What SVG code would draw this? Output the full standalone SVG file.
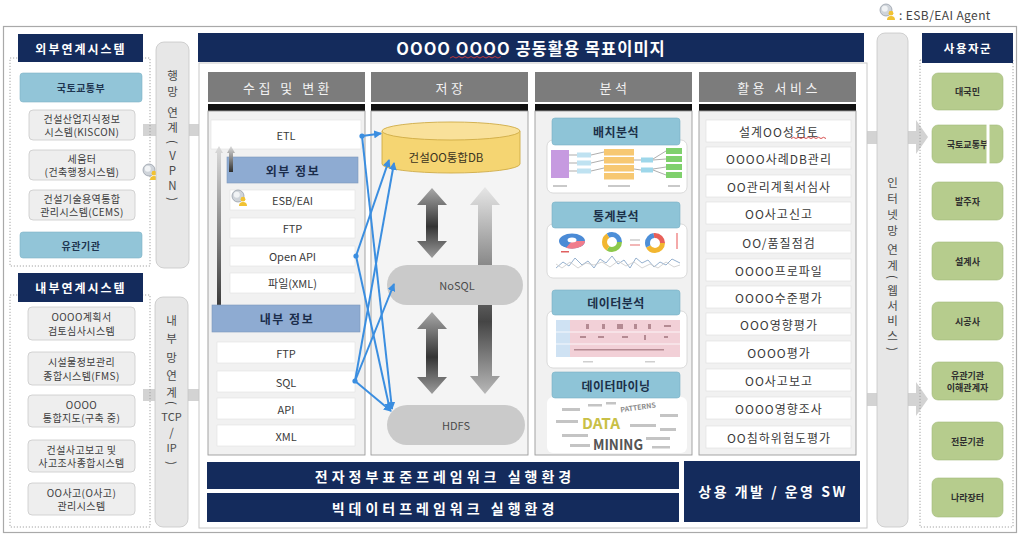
<svg xmlns="http://www.w3.org/2000/svg" width="1020" height="536" viewBox="0 0 1020 536">
<defs>
<style>
text{font-family:"Noto Sans CJK KR","Noto Sans",sans-serif;dominant-baseline:central;text-anchor:middle;}
.navy{fill:#142b5c;}
.wt{fill:#fff;font-weight:700;}
.teal{fill:#92c5d8;stroke:#7fb3c7;stroke-width:0.6;}
.tealT{font-size:10px;font-weight:700;fill:#1e3550;letter-spacing:0.5px;}
.sys{fill:#eeeeee;stroke:#c9c9c9;stroke-width:0.8;}
.sysT{font-size:10px;fill:#3c3c3c;letter-spacing:0.4px;}
.pill{fill:#e7e7e7;stroke:#c6c6c6;stroke-width:0.8;}
.vt{font-size:11.5px;fill:#4a4a4a;}
.dash{fill:none;stroke:#9a9a9a;stroke-width:0.9;stroke-dasharray:1.2 1.8;}
.colH{fill:#7c7c7c;}
.colHT{font-size:13px;fill:#f2f2f2;letter-spacing:3.5px;}
.bar{fill:#111;}
.body{fill:#f1f1f1;stroke:#9b9b9b;stroke-width:0.9;}
.row{fill:#fff;stroke:#e2e2e2;stroke-width:0.6;}
.rowT{font-size:11px;fill:#3a3a3a;}
.info{fill:#8eabd2;stroke:#7d98bd;stroke-width:0.6;}
.infoT{font-size:12px;font-weight:700;fill:#1b2d4b;letter-spacing:1.5px;}
.anH{fill:#8ec4d7;stroke:#78b0c4;stroke-width:0.6;}
.anHT{font-size:12px;font-weight:700;fill:#1c3049;letter-spacing:0.5px;}
.img{fill:#fff;stroke:#d2d2d2;stroke-width:0.8;}
.svc{fill:#fff;stroke:#dedede;stroke-width:0.6;}
.svcT{font-size:12px;fill:#3a3a3a;letter-spacing:1px;}
.green{fill:#b6cc8d;stroke:#a3ba7a;stroke-width:0.6;}
.greenT{font-size:9px;font-weight:700;fill:#2f2f2f;}
.gArrow{fill:#d3d3d3;}
.store{fill:#cacaca;}
.storeT{font-size:11px;fill:#4a4a4a;}
.conn{fill:none;stroke:#3b8ee0;stroke-width:2;marker-end:url(#arr);}
.dot{fill:#3b8ee0;}
.squig{fill:none;stroke:#d23a3a;stroke-width:0.9;}
</style>
<marker id="arr" viewBox="0 0 8 8" refX="7" refY="4" markerWidth="8" markerHeight="8" markerUnits="userSpaceOnUse" orient="auto">
<path d="M0,0 L8,4 L0,8 z" fill="#3b8ee0"/>
</marker>
<linearGradient id="gDark" x1="0" y1="0" x2="0" y2="1">
<stop offset="0" stop-color="#a8a8a8"/>
<stop offset="0.55" stop-color="#343434"/>
<stop offset="1" stop-color="#9c9c9c"/>
</linearGradient>
<linearGradient id="gLong" x1="0" y1="0" x2="0" y2="1">
<stop offset="0" stop-color="#e6e6e6"/>
<stop offset="0.65" stop-color="#454545"/>
<stop offset="1" stop-color="#b8b8b8"/>
</linearGradient>
<linearGradient id="gUp" x1="0" y1="0" x2="0" y2="1">
<stop offset="0" stop-color="#dcdcdc"/>
<stop offset="1" stop-color="#2e2e2e"/>
</linearGradient>
<g id="agentIcon">
<circle cx="0" cy="0" r="6" fill="#cfd4da" stroke="#98a0a9" stroke-width="0.8"/>
<circle cx="-1.2" cy="-1.2" r="3" fill="#f1f3f5"/>
<circle cx="5" cy="3.2" r="2.4" fill="#f1c232"/>
<path d="M1,10 a4,4 0 0 1 8,0 z" fill="#f1c232"/>
</g>
</defs>

<rect width="1020" height="536" fill="#fff"/>
<rect x="3.5" y="26.5" width="1013" height="506" fill="none" stroke="#a9a9a9" stroke-width="1.2"/>

<!-- legend -->
<g id="legend">
<use href="#agentIcon" x="886" y="10"/>
<text x="899" y="14" style="font-size:12px;fill:#444;text-anchor:start;letter-spacing:0.4px;">: ESB/EAI Agent</text>
</g>

<!-- block arrows between panels -->
<g id="flowArrows">
<path class="gArrow" d="M143,124 H200 V119 L212,130 L200,141 V136 H143 z"/>
<path class="gArrow" d="M143,389 H200 V384 L212,395 L200,406 V401 H143 z"/>
<path class="gArrow" d="M865,131 H916 V120 L928,137 L916,154 V144 H865 z"/>
<path class="gArrow" d="M865,393 H916 V382 L928,399 L916,416 V406 H865 z"/>
</g>

<!-- external systems -->
<g id="external">
<rect class="dash" x="10" y="58" width="140" height="208"/>
<rect class="navy" x="18" y="34" width="125" height="28"/>
<text class="wt" x="81" y="48" style="font-size:12px;letter-spacing:2px;">외부연계시스템</text>
<rect class="teal" x="20" y="73" width="122" height="29" rx="3"/>
<text class="tealT" x="81" y="87.5">국토교통부</text>
<rect class="sys" x="29" y="110" width="106" height="30" rx="4"/>
<text class="sysT" x="82" y="118.5">건설산업지식정보</text>
<text class="sysT" x="82" y="131.5">시스템(KISCON)</text>
<rect class="sys" x="29" y="150" width="106" height="30" rx="4"/>
<text class="sysT" x="82" y="158.5">세움터</text>
<text class="sysT" x="82" y="171.5">(건축행정시스템)</text>
<rect class="sys" x="29" y="190" width="106" height="30" rx="4"/>
<text class="sysT" x="82" y="198.5">건설기술용역통합</text>
<text class="sysT" x="82" y="211.5">관리시스템(CEMS)</text>
<rect class="teal" x="20" y="232" width="122" height="26" rx="3"/>
<text class="tealT" x="81" y="245">유관기관</text>
<use href="#agentIcon" x="149" y="170"/>
</g>

<!-- internal systems -->
<g id="internal">
<rect class="dash" x="10" y="295" width="140" height="232"/>
<rect class="navy" x="18" y="273" width="125" height="29"/>
<text class="wt" x="81" y="287.5" style="font-size:12px;letter-spacing:2px;">내부연계시스템</text>
<rect class="sys" x="28" y="307" width="107" height="33" rx="4"/>
<text class="sysT" x="81.5" y="316.5">OOOO계획서</text>
<text class="sysT" x="81.5" y="330">검토심사시스템</text>
<rect class="sys" x="28" y="352" width="107" height="33" rx="4"/>
<text class="sysT" x="81.5" y="361.5">시설물정보관리</text>
<text class="sysT" x="81.5" y="375">종합시스템(FMS)</text>
<rect class="sys" x="28" y="395" width="107" height="32" rx="4"/>
<text class="sysT" x="81.5" y="404">OOOO</text>
<text class="sysT" x="81.5" y="417.5">통합지도(구축 중)</text>
<rect class="sys" x="28" y="440" width="107" height="32" rx="4"/>
<text class="sysT" x="81.5" y="449">건설사고보고 및</text>
<text class="sysT" x="81.5" y="462.5">사고조사종합시스템</text>
<rect class="sys" x="28" y="483" width="107" height="32" rx="4"/>
<text class="sysT" x="81.5" y="492">OO사고(O사고)</text>
<text class="sysT" x="81.5" y="505.5">관리시스템</text>
</g>

<!-- network links -->
<g id="vpnLink">
<rect class="pill" x="156" y="42" width="33" height="226" rx="8"/>
<text class="vt" x="172.5" y="75">행</text>
<text class="vt" x="172.5" y="91">망</text>
<text class="vt" x="172.5" y="112">연</text>
<text class="vt" x="172.5" y="127">계</text>
<text class="vt" x="0" y="0" transform="translate(172.5,142) rotate(90)">(</text>
<text class="vt" x="172.5" y="155">V</text>
<text class="vt" x="172.5" y="170">P</text>
<text class="vt" x="172.5" y="185">N</text>
<text class="vt" x="0" y="0" transform="translate(172.5,199) rotate(90)">)</text>
</g>
<g id="tcpLink">
<rect class="pill" x="155" y="297" width="33" height="230" rx="8"/>
<text class="vt" x="171.5" y="320">내</text>
<text class="vt" x="171.5" y="338">부</text>
<text class="vt" x="171.5" y="357">망</text>
<text class="vt" x="171.5" y="375">연</text>
<text class="vt" x="171.5" y="392">계</text>
<text class="vt" x="0" y="0" transform="translate(171.5,403) rotate(90)">(</text>
<text class="vt" x="171.5" y="416" style="font-size:11px;">TCP</text>
<text class="vt" x="171.5" y="432">/</text>
<text class="vt" x="171.5" y="447" style="font-size:11px;">IP</text>
<text class="vt" x="0" y="0" transform="translate(171.5,463) rotate(90)">)</text>
</g>
<g id="webLink">
<rect class="pill" x="877" y="33" width="31" height="494" rx="8"/>
<text class="vt" x="892.5" y="182">인</text>
<text class="vt" x="892.5" y="198">터</text>
<text class="vt" x="892.5" y="214">넷</text>
<text class="vt" x="892.5" y="230">망</text>
<text class="vt" x="892.5" y="249">연</text>
<text class="vt" x="892.5" y="265">계</text>
<text class="vt" x="0" y="0" transform="translate(892.5,277) rotate(90)">(</text>
<text class="vt" x="892.5" y="290">웹</text>
<text class="vt" x="892.5" y="305">서</text>
<text class="vt" x="892.5" y="320">비</text>
<text class="vt" x="892.5" y="335">스</text>
<text class="vt" x="0" y="0" transform="translate(892.5,349) rotate(90)">)</text>
</g>

<!-- main panel -->
<g id="mainTitle">
<rect x="199" y="63" width="668" height="465" fill="#fff" stroke="#c8c8c8"/>
<rect class="navy" x="198" y="33" width="666" height="29"/>
<text class="wt" x="531" y="47.5" style="font-size:16.5px;letter-spacing:1px;">OOOO OOOO 공동활용 목표이미지</text>
<path class="squig" d="M450,58 l3,-1.5 3,1.5 3,-1.5 3,1.5 3,-1.5 3,1.5 3,-1.5 3,1.5 3,-1.5 3,1.5 3,-1.5 3,1.5 3,-1.5 3,1.5 3,-1.5 3,1.5 3,-1.5"/>
</g>

<!-- collect & transform -->
<g id="collect">
<rect class="colH" x="208" y="72" width="157" height="30"/>
<text class="colHT" x="288" y="87">수집 및 변환</text>
<rect class="bar" x="208" y="104" width="157" height="7"/>
<rect class="body" x="208" y="111" width="157" height="344"/>
<rect class="row" x="211" y="120" width="150" height="29"/>
<text class="rowT" x="286" y="135">ETL</text>
<path d="M219,146 L223,153 L221,153 L221,318 L217,318 L217,153 L215,153 z" fill="url(#gUp)"/>
<rect class="info" x="227" y="157" width="131" height="26"/>
<path d="M231,146 L235,153 L233,153 L233,172 L229,172 L229,153 L227,153 z" fill="url(#gUp)"/>
<text class="infoT" x="293" y="170">외부 정보</text>
<rect class="row" x="230" y="190" width="125" height="20"/>
<text class="rowT" x="292.5" y="200">ESB/EAI</text>
<use href="#agentIcon" x="238" y="196"/>
<rect class="row" x="230" y="218" width="125" height="20"/>
<text class="rowT" x="292.5" y="228">FTP</text>
<rect class="row" x="230" y="246" width="125" height="20"/>
<text class="rowT" x="292.5" y="256">Open API</text>
<rect class="row" x="230" y="273" width="125" height="20"/>
<text class="rowT" x="292.5" y="283">파일(XML)</text>
<rect class="info" x="212" y="305" width="148" height="27"/>
<text class="infoT" x="287" y="318.5">내부 정보</text>
<rect class="row" x="217" y="342" width="138" height="21"/>
<text class="rowT" x="286" y="352.5">FTP</text>
<rect class="row" x="217" y="371" width="138" height="21"/>
<text class="rowT" x="286" y="381.5">SQL</text>
<rect class="row" x="217" y="398" width="138" height="21"/>
<text class="rowT" x="286" y="408.5">API</text>
<rect class="row" x="217" y="425" width="138" height="21"/>
<text class="rowT" x="286" y="435.5">XML</text>
</g>

<!-- storage -->
<g id="storage">
<rect class="colH" x="371" y="72" width="157" height="30"/>
<text class="colHT" x="451" y="87">저장</text>
<rect class="bar" x="371" y="104" width="157" height="7"/>
<rect class="body" x="371" y="111" width="157" height="344" style="fill:#f4f4f4"/>
<path d="M432,188 L447,205 L438,205 L438,241 L447,241 L432,258 L417,241 L426,241 L426,205 L417,205 z" fill="url(#gDark)"/>
<path d="M432,312 L447,329 L438,329 L438,377 L447,377 L432,394 L417,377 L426,377 L426,329 L417,329 z" fill="url(#gDark)"/>
<path d="M485,187 L500,205 L492,205 L492,376 L500,376 L485,394 L470,376 L478,376 L478,205 L470,205 z" fill="url(#gLong)"/>
</g>
<g id="integratedDB">
<path d="M382,131 V164 A69,9 0 0 0 520,164 V131 z" fill="#f5d572" stroke="#cfab45" stroke-width="0.9"/>
<ellipse cx="451" cy="131" rx="69" ry="9" fill="#f9e19a" stroke="#cfab45" stroke-width="0.9"/>
<text x="446" y="157" style="font-size:11.5px;fill:#3a3320;">건설OO통합DB</text>
</g>
<g id="nosql">
<rect class="store" x="387" y="265" width="136" height="40" rx="20"/>
<text class="storeT" x="457" y="285">NoSQL</text>
</g>
<g id="hdfs">
<rect class="store" x="387" y="405" width="138" height="40" rx="20"/>
<text class="storeT" x="456" y="425">HDFS</text>
</g>

<!-- analysis -->
<g id="analysis">
<rect class="colH" x="535" y="72" width="157" height="30"/>
<text class="colHT" x="615" y="87">분석</text>
<rect class="bar" x="535" y="104" width="157" height="7"/>
<rect class="body" x="535" y="111" width="157" height="344"/>

<!-- batch analysis figure -->
<rect class="img" x="547" y="140" width="140" height="53" rx="6"/>
<rect x="551" y="150" width="18" height="28" fill="#c69ae0"/>
<g stroke="#777" stroke-width="0.6">
<line x1="569" y1="155" x2="577" y2="155"/><line x1="569" y1="163" x2="577" y2="163"/><line x1="569" y1="171" x2="577" y2="171"/>
<line x1="591" y1="155" x2="604" y2="152"/><line x1="591" y1="163" x2="604" y2="160"/><line x1="591" y1="171" x2="604" y2="168"/>
<line x1="634" y1="160" x2="641" y2="160"/><line x1="634" y1="169" x2="641" y2="170"/>
<line x1="653" y1="159" x2="666" y2="151"/><line x1="653" y1="160" x2="666" y2="159"/><line x1="653" y1="169" x2="666" y2="167"/><line x1="653" y1="170" x2="666" y2="175"/>
</g>
<rect x="577" y="152.5" width="14" height="5" fill="#bfe2f1"/>
<rect x="577" y="160.5" width="14" height="5" fill="#bfe2f1"/>
<rect x="577" y="168.5" width="14" height="5" fill="#bfe2f1"/>
<rect x="604" y="149" width="30" height="6.5" fill="#f7c872"/>
<rect x="604" y="157" width="30" height="6.5" fill="#f7c872"/>
<rect x="604" y="165" width="30" height="6.5" fill="#f7c872"/>
<rect x="604" y="173" width="30" height="6.5" fill="#f7c872"/>
<rect x="641" y="157.5" width="12" height="5" fill="#9ed7ea"/>
<rect x="641" y="167.5" width="12" height="5" fill="#9ed7ea"/>
<rect x="666" y="148" width="16" height="6" fill="#7fd06c"/>
<rect x="666" y="156" width="16" height="6" fill="#7fd06c"/>
<rect x="666" y="164" width="16" height="6" fill="#7fd06c"/>
<rect x="666" y="172" width="16" height="6" fill="#7fd06c"/>
<rect x="553" y="185" width="14" height="2" fill="#c9c9c9"/>
<rect x="608" y="185" width="22" height="2" fill="#c9c9c9"/>
<rect x="668" y="185" width="12" height="2" fill="#c9c9c9"/>
<rect class="anH" x="552" y="118" width="128" height="27" rx="3"/>
<text class="anHT" x="616" y="131.5">배치분석</text>

<!-- statistics figure -->
<rect class="img" x="547" y="224" width="140" height="54" rx="6"/>
<ellipse cx="572" cy="241" rx="13" ry="7.5" fill="#4b8bd6"/>
<path d="M572,241 L585,241 A13,7.5 0 0 1 566,247.8 z" fill="#f07c8c"/>
<ellipse cx="572" cy="240" rx="4.5" ry="2.5" fill="#fff"/>
<circle cx="612" cy="242" r="7.5" fill="none" stroke="#8cc84b" stroke-width="5" stroke-dasharray="16 31"/>
<circle cx="612" cy="242" r="7.5" fill="none" stroke="#f2b630" stroke-width="5" stroke-dasharray="0 16 15 16"/>
<circle cx="612" cy="242" r="7.5" fill="none" stroke="#4d8fd8" stroke-width="5" stroke-dasharray="0 31 16 0"/>
<circle cx="655" cy="243" r="7.5" fill="none" stroke="#f2b630" stroke-width="5" stroke-dasharray="20 27"/>
<circle cx="655" cy="243" r="7.5" fill="none" stroke="#4d8fd8" stroke-width="5" stroke-dasharray="0 20 14 13"/>
<circle cx="655" cy="243" r="7.5" fill="none" stroke="#e8605a" stroke-width="5" stroke-dasharray="0 34 13 0"/>
<rect x="630" y="239" width="10" height="2" fill="#d9d9d9"/>
<rect x="630" y="244" width="10" height="2" fill="#f2b7b7"/>
<rect x="676" y="233" width="2" height="16" fill="#f4a9a9"/>
<rect x="561" y="251" width="8" height="1.5" fill="#e06060"/>
<polyline points="556,268 563,262 569,266 575,258 582,265 588,261 594,268 600,259 606,263 612,256 618,264 624,260 630,268 636,258 642,263 648,260 654,267 660,262 666,265 672,259 680,263" fill="none" stroke="#8aa8c8" stroke-width="0.9"/>
<polyline points="556,264 562,268 570,262 578,268 586,263 594,265 602,262 610,267 618,261 626,266 634,262 642,268 650,264 658,268 666,262 674,267 680,265" fill="none" stroke="#c9c9c9" stroke-width="0.8"/>
<rect class="anH" x="552" y="202" width="128" height="26" rx="3"/>
<text class="anHT" x="616" y="215">통계분석</text>

<!-- data analysis figure -->
<rect class="img" x="547" y="311" width="140" height="57" rx="6"/>
<rect x="556" y="320" width="14" height="37" fill="#cfe2f3"/>
<rect x="570" y="320" width="110" height="37" fill="#f2d0d7"/>
<g stroke="#fff" stroke-width="0.8">
<line x1="556" y1="332" x2="680" y2="332"/><line x1="556" y1="344" x2="680" y2="344"/>
</g>
<g fill="#b48a92">
<rect x="586" y="324" width="3" height="5"/><rect x="602" y="324" width="3" height="5"/><rect x="617" y="324" width="6" height="5"/><rect x="634" y="324" width="3" height="5"/><rect x="648" y="324" width="3" height="5"/><rect x="664" y="325" width="7" height="2"/>
<rect x="580" y="336" width="6" height="2"/><rect x="598" y="336" width="6" height="2"/><rect x="622" y="336" width="6" height="2"/><rect x="644" y="335" width="2" height="5"/><rect x="664" y="336" width="4" height="2"/>
<rect x="574" y="349" width="90" height="1.5"/>
</g>
<rect x="583" y="361" width="10" height="1.5" fill="#cfcfcf"/>
<rect x="645" y="361" width="10" height="1.5" fill="#cfcfcf"/>
<rect class="anH" x="552" y="290" width="128" height="25" rx="3"/>
<text class="anHT" x="616" y="302.5">데이터분석</text>

<!-- data mining figure -->
<rect x="547" y="397" width="140" height="56" rx="6" fill="#fff"/>
<g fill="#c4c4c4">
<rect x="562" y="408" width="18" height="3"/><rect x="588" y="404" width="14" height="2.5"/><rect x="660" y="414" width="18" height="3"/>
<rect x="556" y="420" width="22" height="3"/><rect x="630" y="424" width="26" height="3"/><rect x="660" y="428" width="16" height="3"/>
<rect x="562" y="434" width="26" height="3"/><rect x="646" y="437" width="24" height="3"/><rect x="570" y="444" width="20" height="3"/>
<rect x="652" y="446" width="18" height="2.5"/><rect x="606" y="402" width="10" height="2.5"/>
</g>
<text x="638" y="407" style="font-size:7px;font-weight:700;fill:#8a8a8a;" transform="rotate(-8 638 407)">PATTERNS</text>
<text x="601" y="422" style="font-size:15px;font-weight:700;fill:#c9c046;" textLength="38" lengthAdjust="spacingAndGlyphs">DATA</text>
<text x="618" y="443" style="font-size:15px;font-weight:700;fill:#555;" textLength="50" lengthAdjust="spacingAndGlyphs">MINING</text>
<rect class="anH" x="552" y="372" width="128" height="26" rx="3"/>
<text class="anHT" x="616" y="385">데이터마이닝</text>
</g>

<!-- services -->
<g id="services">
<rect class="colH" x="699" y="72" width="157" height="30"/>
<text class="colHT" x="779" y="87">활용 서비스</text>
<rect class="bar" x="699" y="104" width="157" height="7"/>
<rect class="body" x="699" y="111" width="157" height="344"/>
<rect class="svc" x="706" y="120" width="145" height="22"/><text class="svcT" x="779" y="131">설계OO성검토</text>
<path class="squig" d="M791,138.5 l2.5,-1.2 2.5,1.2 2.5,-1.2 2.5,1.2 2.5,-1.2 2.5,1.2 2.5,-1.2 2.5,1.2 2.5,-1.2 2.5,1.2 2.5,-1.2 2.5,1.2 2.5,-1.2 2.5,1.2"/>
<rect class="svc" x="706" y="147" width="145" height="22"/><text class="svcT" x="779" y="158">OOOO사례DB관리</text>
<rect class="svc" x="706" y="175" width="145" height="22"/><text class="svcT" x="779" y="186">OO관리계획서심사</text>
<rect class="svc" x="706" y="202" width="145" height="22"/><text class="svcT" x="779" y="213">OO사고신고</text>
<rect class="svc" x="706" y="231" width="145" height="22"/><text class="svcT" x="779" y="242">OO/품질점검</text>
<rect class="svc" x="706" y="259" width="145" height="22"/><text class="svcT" x="779" y="270">OOOO프로파일</text>
<rect class="svc" x="706" y="286" width="145" height="22"/><text class="svcT" x="779" y="297">OOOO수준평가</text>
<rect class="svc" x="706" y="313" width="145" height="22"/><text class="svcT" x="779" y="324">OOO영향평가</text>
<rect class="svc" x="706" y="341" width="145" height="22"/><text class="svcT" x="779" y="352">OOOO평가</text>
<rect class="svc" x="706" y="369" width="145" height="22"/><text class="svcT" x="779" y="380">OO사고보고</text>
<rect class="svc" x="706" y="397" width="145" height="22"/><text class="svcT" x="779" y="408">OOOO영향조사</text>
<rect class="svc" x="706" y="426" width="145" height="22"/><text class="svcT" x="779" y="437">OO침하위험도평가</text>
</g>

<!-- runtime environments -->
<g id="runtime">
<rect class="navy" x="207" y="462" width="472" height="27"/>
<text class="wt" x="445" y="475.5" style="font-size:14px;letter-spacing:4px;">전자정부표준프레임워크 실행환경</text>
<rect class="navy" x="207" y="493" width="472" height="29"/>
<text class="wt" x="445" y="507.5" style="font-size:14px;letter-spacing:4px;">빅데이터프레임워크 실행환경</text>
<rect class="navy" x="684" y="461" width="176" height="61"/>
<text class="wt" x="773" y="491" style="font-size:14px;letter-spacing:2.5px;">상용 개발 / 운영 SW</text>
</g>

<!-- user groups -->
<g id="users">
<rect class="dash" x="920" y="60" width="93" height="467"/>
<rect class="navy" x="922" y="33" width="91" height="30"/>
<text class="wt" x="968" y="48" style="font-size:11.5px;letter-spacing:1.5px;">사용자군</text>
<rect class="green" x="932" y="73" width="71" height="37" rx="6"/><text class="greenT" x="967.5" y="91.5">대국민</text>
<rect class="green" x="932" y="125" width="71" height="38" rx="6"/><text class="greenT" x="967.5" y="144">국토교통부</text>
<rect x="986.5" y="122" width="3" height="64" fill="#fff"/>
<rect class="green" x="932" y="182" width="71" height="38" rx="6"/><text class="greenT" x="967.5" y="201">발주자</text>
<rect class="green" x="932" y="242" width="71" height="38" rx="6"/><text class="greenT" x="967.5" y="261">설계사</text>
<rect class="green" x="932" y="302" width="71" height="38" rx="6"/><text class="greenT" x="967.5" y="321">시공사</text>
<rect class="green" x="932" y="362" width="71" height="38" rx="6"/><text class="greenT" x="967.5" y="375.5">유관기관</text><text class="greenT" x="967.5" y="387.5">이해관계자</text>
<rect class="green" x="932" y="422" width="71" height="38" rx="6"/><text class="greenT" x="967.5" y="441">전문기관</text>
<rect class="green" x="932" y="478" width="71" height="39" rx="6"/><text class="greenT" x="967.5" y="497.5">나라장터</text>
</g>

<!-- data flow connectors -->
<g id="connectors">
<line class="conn" x1="362" y1="136" x2="381" y2="133.5"/>
<line class="conn" x1="362" y1="136" x2="392" y2="409"/>
<line class="conn" x1="356" y1="256" x2="389" y2="160"/>
<line class="conn" x1="356" y1="256" x2="390" y2="410"/>
<line class="conn" x1="355" y1="381" x2="394" y2="163"/>
<line class="conn" x1="355" y1="381" x2="394" y2="284"/>
<line class="conn" x1="355" y1="381" x2="391" y2="411"/>
<circle class="dot" cx="362" cy="136" r="2.6"/>
<circle class="dot" cx="356" cy="256" r="2.6"/>
<circle class="dot" cx="355" cy="381" r="2.6"/>
</g>
</svg>
